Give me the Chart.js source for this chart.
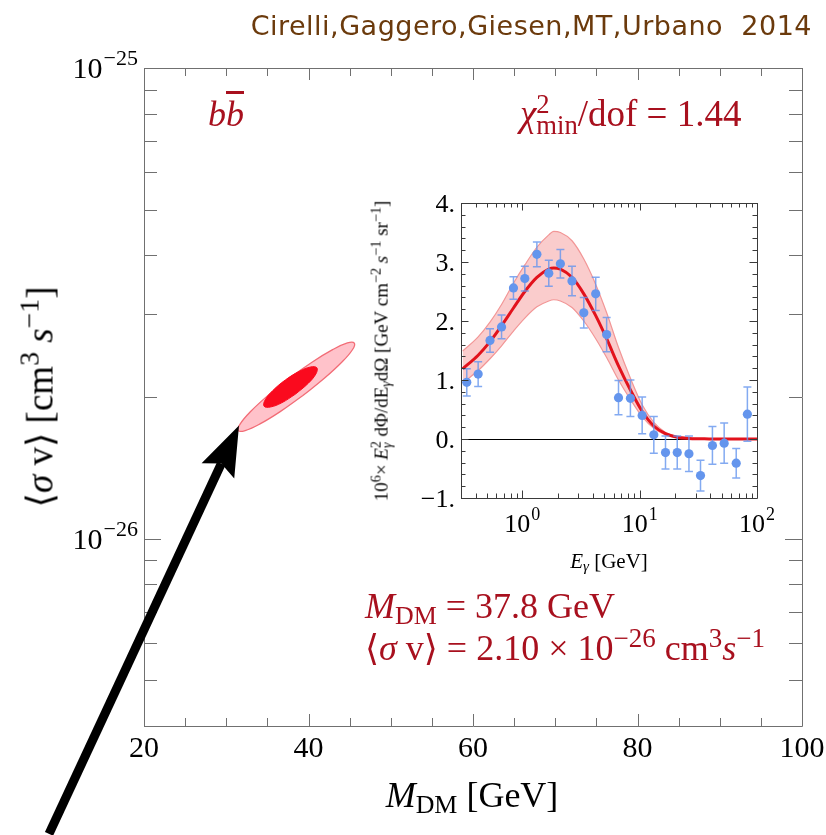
<!DOCTYPE html>
<html>
<head>
<meta charset="utf-8">
<script src="https://cdn.jsdelivr.net/npm/chart.js@4.4.1/dist/chart.umd.min.js"></script>
<style>
  body { margin: 0; background: #fff; }
  #wrap { position: relative; width: 826px; height: 835px; overflow: hidden;
          font-family: "Liberation Serif", "DejaVu Serif", serif; }
  canvas { position: absolute; }
  .t { position: absolute; white-space: nowrap; line-height: 1; }
  .red { color: #a8101e; }
  sup { font-size: 0.75em; vertical-align: 0.5em; line-height: 0; }
  sub { font-size: 0.72em; vertical-align: -0.25em; line-height: 0; }
  .stack { display: inline-flex; flex-direction: column; font-size: 0.72em; line-height: 0.8;
           position: relative; top: -0.5em; }
  .rot { transform: translate(-50%, -50%) rotate(-90deg); transform-origin: center; }
</style>
</head>
<body>
<div id="wrap">
  <canvas id="main" width="826" height="835" style="left:0;top:0"></canvas>
  <canvas id="inset" width="440" height="420" style="left:360px;top:170px"></canvas>

  <div class="t" id="title" style="right:14px;top:12px;font-family:'DejaVu Sans',sans-serif;font-size:27px;letter-spacing:0.5px;color:#6b3a0c">Cirelli,Gaggero,Giesen,MT,Urbano&nbsp;&nbsp;2014</div>

  <div class="t red" style="left:208px;top:96px;font-size:36px;font-style:italic">b<span style="text-decoration:overline">b</span></div>
  <div class="t red" style="left:520px;top:95px;font-size:37px"><i>χ</i><span class="stack"><span>2</span><span>min</span></span>/dof = 1.44</div>

  <div class="t red" style="left:365px;top:588px;font-size:36px"><i>M</i><sub>DM</sub> = 37.8 GeV</div>
  <div class="t red" style="left:365px;top:630px;font-size:36px">⟨<i>σ</i> v⟩ = 2.10 × 10<sup>−26</sup> cm<sup>3</sup><i>s</i><sup>−1</sup></div>

  <div class="t" style="left:472px;top:777px;font-size:36px;transform:translateX(-50%)"><i>M</i><sub>DM</sub> [GeV]</div>
  <div class="t rot" style="left:40px;top:397px;font-size:37px">⟨<i>σ</i> v⟩ [cm<sup>3</sup> <i>s</i><sup>−1</sup>]</div>

  <div class="t" style="left:609px;top:561px;font-size:21px;transform:translate(-50%,-50%)"><i>E</i><sub><i>γ</i></sub> [GeV]</div>
  <div class="t rot" style="left:386px;top:351px;font-size:19px">10<sup>6</sup>× <i>E</i><span class="stack"><span>2</span><span><i>γ</i></span></span> dΦ/dE<sub><i>γ</i></sub>dΩ [GeV cm<sup>−2</sup> <i>s</i><sup>−1</sup> sr<sup>−1</sup>]</div>
</div>

<script>
// ---- main panel: M_DM vs <sigma v>, b-bbar fit regions ----
const massRange = [20, 100];
const sigmaRange = [4e-27, 1e-25];
const massTicks = [20, 25, 30, 35, 40, 45, 50, 55, 60, 65, 70, 75, 80, 85, 90, 95, 100];
const massLabels = [20, 40, 60, 80, 100];
const sigmaTicks = [4e-27, 5e-27, 6e-27, 7e-27, 8e-27, 9e-27, 1e-26,
                    2e-26, 3e-26, 4e-26, 5e-26, 6e-26, 7e-26, 8e-26, 9e-26, 1e-25];
const sigmaLabels = [1e-26, 1e-25];

// outer (2 sigma) contour
const outerMass  = [39.32, 36.56, 34.10, 32.30, 31.47, 31.70, 32.96, 35.08, 37.71,
                    40.47, 42.93, 44.73, 45.57, 45.34, 44.07, 41.96, 39.32];
const outerSigma = [2.014e-26, 1.862e-26, 1.753e-26, 1.697e-26, 1.697e-26, 1.754e-26, 1.863e-26, 2.016e-26, 2.195e-26,
                    2.374e-26, 2.521e-26, 2.606e-26, 2.604e-26, 2.520e-26, 2.373e-26, 2.194e-26, 2.014e-26];
// inner (1 sigma) contour
const innerMass  = [38.43, 36.74, 35.34, 34.60, 34.72, 35.67, 37.19, 38.88, 40.28, 41.02, 40.90, 39.95, 38.43];
const innerSigma = [2.029e-26, 1.944e-26, 1.904e-26, 1.912e-26, 1.970e-26, 2.065e-26, 2.174e-26,
                    2.268e-26, 2.317e-26, 2.307e-26, 2.239e-26, 2.137e-26, 2.029e-26];

// arrow pointing at the fit region (mass, sigma v)
const arrowFrom = [8.45, 2.36e-27];
const arrowTo = [31.55, 1.74e-26];

// ---- inset: gamma-ray spectrum ----
const energyRange = [0.31, 100];
const fluxRange = [-1, 4];
const dataEnergy = [0.336, 0.42, 0.53, 0.665, 0.84, 1.05, 1.33, 1.68, 2.11, 2.65, 3.34, 4.22, 5.23,
                    6.6, 8.34, 10.5, 13.2, 16.6, 20.9, 26.3, 33.0, 41.7, 52.5, 66.5, 82.8];
const dataFlux = [0.96, 1.10, 1.67, 1.90, 2.56, 2.72, 3.13, 2.81, 2.97, 2.68, 2.14, 2.46, 1.77,
                  0.70, 0.69, 0.40, 0.07, -0.23, -0.23, -0.25, -0.62, -0.11, -0.07, -0.41, 0.42];
const dataErr = [0.23, 0.21, 0.20, 0.20, 0.19, 0.21, 0.21, 0.22, 0.24, 0.25, 0.26, 0.28, 0.29,
                 0.29, 0.31, 0.31, 0.31, 0.28, 0.28, 0.30, 0.26, 0.32, 0.34, 0.25, 0.46];

const modelEnergy = [0.31, 0.42, 0.53, 0.665, 0.84, 1.05, 1.33, 1.68, 1.85, 2.11, 2.65, 3.34, 4.22,
                     5.23, 6.6, 8.34, 10.5, 13.2, 16.6, 20.9, 26.3, 33, 41.7, 60, 100];
const modelFlux = [1.19, 1.42, 1.65, 1.92, 2.22, 2.50, 2.74, 2.88, 2.90, 2.88, 2.74, 2.46, 2.09,
                   1.70, 1.24, 0.83, 0.47, 0.22, 0.09, 0.03, 0.01, 0.005, 0, 0, 0];
const bandUpper = [1.49, 1.73, 1.98, 2.28, 2.64, 2.95, 3.25, 3.46, 3.52, 3.50, 3.36, 3.05, 2.62,
                   2.14, 1.55, 1.03, 0.58, 0.28, 0.11, 0.04, 0.015, 0.005, 0, 0, 0];
const bandLower = [0.95, 1.16, 1.36, 1.58, 1.83, 2.05, 2.24, 2.34, 2.36, 2.34, 2.23, 2.00, 1.70,
                   1.38, 1.00, 0.67, 0.38, 0.18, 0.07, 0.025, 0.008, 0.003, 0, 0, 0];

const energyTicks = [0.4, 0.5, 0.6, 0.7, 0.8, 0.9, 1, 2, 3, 4, 5, 6, 7, 8, 9,
                     10, 20, 30, 40, 50, 60, 70, 80, 90, 100];
const energyLabels = [1, 10, 100];
const fluxTicks = [-1, -0.8, -0.6, -0.4, -0.2, 0, 0.2, 0.4, 0.6, 0.8, 1, 1.2, 1.4, 1.6, 1.8,
                   2, 2.2, 2.4, 2.6, 2.8, 3, 3.2, 3.4, 3.6, 3.8, 4];
const fluxLabels = [-1, 0, 1, 2, 3, 4];

const pts = (xs, ys) => xs.map((v, i) => ({ x: v, y: ys[i] }));

function isMajor(v, majors) {
    return majors.some(m => m === 0 ? Math.abs(v) < 1e-9 : Math.abs(v / m - 1) < 1e-6);
}

// "10" with a raised exponent, drawn on the canvas
function drawPow(ctx, exp, x, y, align, baseSize, supSize, rise) {
    ctx.font = baseSize + 'px "Liberation Serif"';
    const wb = ctx.measureText('10').width;
    ctx.font = supSize + 'px "Liberation Serif"';
    const we = ctx.measureText(exp).width;
    const w = wb + we + 1;
    const x0 = align === 'right' ? x - w : align === 'center' ? x - w / 2 : x;
    ctx.textAlign = 'left';
    ctx.textBaseline = 'alphabetic';
    ctx.font = baseSize + 'px "Liberation Serif"';
    ctx.fillText('10', x0, y);
    ctx.font = supSize + 'px "Liberation Serif"';
    ctx.fillText(exp, x0 + wb + 1, y - rise);
}

// Mathematica style frame: inward ticks on all four sides
function framePlugin(cfg) {
    return {
        id: 'frame',
        afterDatasetsDraw(chart) {
            const { ctx, chartArea: a, scales: { x, y } } = chart;
            ctx.save();
            ctx.strokeStyle = cfg.color;
            ctx.lineWidth = 1;
            ctx.beginPath();
            ctx.rect(Math.round(a.left) + 0.5, Math.round(a.top) + 0.5,
                     Math.round(a.right - a.left), Math.round(a.bottom - a.top));
            cfg.xTicks.forEach(v => {
                const px = Math.round(x.getPixelForValue(v)) + 0.5;
                const len = isMajor(v, cfg.xMajor) ? cfg.xLen[0] : cfg.xLen[1];
                ctx.moveTo(px, a.bottom); ctx.lineTo(px, a.bottom - len);
                ctx.moveTo(px, a.top); ctx.lineTo(px, a.top + len);
            });
            cfg.yTicks.forEach(v => {
                const py = Math.round(y.getPixelForValue(v)) + 0.5;
                const len = isMajor(v, cfg.yMajor) ? cfg.yLen[0] : cfg.yLen[1];
                ctx.moveTo(a.left, py); ctx.lineTo(a.left + len, py);
                ctx.moveTo(a.right, py); ctx.lineTo(a.right - len, py);
            });
            ctx.stroke();
            ctx.fillStyle = '#000';
            cfg.xMajor.forEach(v => cfg.xLabel(ctx, v, x.getPixelForValue(v), a.bottom));
            cfg.yMajor.forEach(v => cfg.yLabel(ctx, v, a.left, y.getPixelForValue(v)));
            ctx.restore();
        }
    };
}

const arrowPlugin = {
    id: 'arrow',
    afterDraw(chart) {
        const { ctx, scales: { x, y } } = chart;
        const x0 = x.getPixelForValue(arrowFrom[0]), y0 = y.getPixelForValue(arrowFrom[1]);
        const x1 = x.getPixelForValue(arrowTo[0]), y1 = y.getPixelForValue(arrowTo[1]);
        const L = Math.hypot(x1 - x0, y1 - y0);
        const ux = (x1 - x0) / L, uy = (y1 - y0) / L, nx = -uy, ny = ux;
        const head = 50, notch = 42, half = 18;
        ctx.save();
        ctx.strokeStyle = '#000';
        ctx.fillStyle = '#000';
        ctx.lineWidth = 9;
        ctx.beginPath();
        ctx.moveTo(x0, y0);
        ctx.lineTo(x1 - ux * notch, y1 - uy * notch);
        ctx.stroke();
        ctx.beginPath();
        ctx.moveTo(x1, y1);
        ctx.lineTo(x1 - ux * head + nx * half, y1 - uy * head + ny * half);
        ctx.lineTo(x1 - ux * notch, y1 - uy * notch);
        ctx.lineTo(x1 - ux * head - nx * half, y1 - uy * head - ny * half);
        ctx.closePath();
        ctx.fill();
        ctx.restore();
    }
};

const hiddenAxis = { ticks: { display: false }, grid: { display: false }, border: { display: false } };

new Chart(document.getElementById('main'), {
    type: 'scatter',
    data: {
        datasets: [{
            data: pts(innerMass, innerSigma),
            showLine: true, fill: 'shape', tension: 0.4,
            backgroundColor: 'rgb(250,10,30)', borderColor: 'rgb(250,10,30)',
            borderWidth: 1, pointRadius: 0, order: 0
        }, {
            data: pts(outerMass, outerSigma),
            showLine: true, fill: 'shape', tension: 0.4,
            backgroundColor: 'rgb(255,194,202)', borderColor: 'rgb(242,108,118)',
            borderWidth: 1.3, pointRadius: 0, order: 1
        }]
    },
    options: {
        responsive: false, animation: false, devicePixelRatio: 1,
        layout: { padding: { top: 68, right: 24, left: 0, bottom: 0 } },
        plugins: { legend: { display: false }, tooltip: { enabled: false } },
        scales: {
            x: { ...hiddenAxis, type: 'linear', min: massRange[0], max: massRange[1],
                 afterFit(s) { s.height = 109; } },
            y: { ...hiddenAxis, type: 'logarithmic', min: sigmaRange[0], max: sigmaRange[1],
                 afterFit(s) { s.width = 144; } }
        }
    },
    plugins: [framePlugin({
        color: '#707070',
        xTicks: massTicks, xMajor: massLabels, xLen: [12, 8],
        yTicks: sigmaTicks, yMajor: sigmaLabels, yLen: [17, 13],
        xLabel(ctx, v, px, bottom) {
            ctx.font = '30px "Liberation Serif"';
            ctx.textAlign = 'center';
            ctx.textBaseline = 'alphabetic';
            ctx.fillText(String(v), px, bottom + 31);
        },
        yLabel(ctx, v, left, py) {
            drawPow(ctx, '\u2212' + Math.abs(Math.round(Math.log10(v))), left - 6, py + 10, 'right', 30, 22, 13);
        }
    }), arrowPlugin]
});

// zero line and error bars under the inset points
const errorBarPlugin = {
    id: 'errorBars',
    beforeDatasetsDraw(chart) {
        const { ctx, chartArea: a, scales: { y } } = chart;
        const py = Math.round(y.getPixelForValue(0)) + 0.5;
        ctx.save();
        ctx.strokeStyle = '#000';
        ctx.lineWidth = 1;
        ctx.beginPath();
        ctx.moveTo(a.left, py); ctx.lineTo(a.right, py);
        ctx.stroke();
        ctx.restore();
    },
    beforeDatasetDraw(chart, args) {
        if (args.index !== 3) return;
        const { ctx, scales: { x, y } } = chart;
        ctx.save();
        ctx.strokeStyle = 'rgba(100,149,237,0.8)';
        ctx.lineWidth = 1.5;
        ctx.beginPath();
        dataEnergy.forEach((e, i) => {
            const px = x.getPixelForValue(e);
            const hi = y.getPixelForValue(dataFlux[i] + dataErr[i]);
            const lo = y.getPixelForValue(dataFlux[i] - dataErr[i]);
            ctx.moveTo(px, hi); ctx.lineTo(px, lo);
            ctx.moveTo(px - 4, hi); ctx.lineTo(px + 4, hi);
            ctx.moveTo(px - 4, lo); ctx.lineTo(px + 4, lo);
        });
        ctx.stroke();
        ctx.restore();
    }
};

new Chart(document.getElementById('inset'), {
    type: 'scatter',
    data: {
        datasets: [{
            data: pts(modelEnergy, bandUpper),
            showLine: true, fill: '+1', cubicInterpolationMode: 'monotone',
            backgroundColor: 'rgba(242,128,128,0.4)', borderColor: 'rgb(242,150,150)',
            borderWidth: 1.2, pointRadius: 0, order: 3
        }, {
            data: pts(modelEnergy, bandLower),
            showLine: true, fill: false, cubicInterpolationMode: 'monotone',
            borderColor: 'rgb(242,150,150)', borderWidth: 1.2, pointRadius: 0, order: 2
        }, {
            data: pts(modelEnergy, modelFlux),
            showLine: true, fill: false, cubicInterpolationMode: 'monotone',
            borderColor: 'rgb(226,18,28)', borderWidth: 3, pointRadius: 0, order: 1
        }, {
            data: pts(dataEnergy, dataFlux),
            backgroundColor: 'rgb(100,149,237)', borderWidth: 0,
            pointRadius: 4.6, order: 0
        }]
    },
    options: {
        responsive: false, animation: false, devicePixelRatio: 1,
        layout: { padding: { top: 33, right: 43, left: 0, bottom: 0 } },
        plugins: { legend: { display: false }, tooltip: { enabled: false } },
        scales: {
            x: { ...hiddenAxis, type: 'logarithmic', min: energyRange[0], max: energyRange[1],
                 afterFit(s) { s.height = 92; } },
            y: { ...hiddenAxis, type: 'linear', min: fluxRange[0], max: fluxRange[1],
                 afterFit(s) { s.width = 101; } }
        }
    },
    plugins: [errorBarPlugin, framePlugin({
        color: '#3a3a3a',
        xTicks: energyTicks, xMajor: energyLabels, xLen: [7.5, 4.5],
        yTicks: fluxTicks, yMajor: fluxLabels, yLen: [7.5, 4.5],
        xLabel(ctx, v, px, bottom) {
            drawPow(ctx, String(Math.round(Math.log10(v))), px, bottom + 34, 'center', 26, 18, 12);
        },
        yLabel(ctx, v, left, py) {
            ctx.font = '26px "Liberation Serif"';
            ctx.textAlign = 'right';
            ctx.textBaseline = 'alphabetic';
            ctx.fillText((v < 0 ? '\u2212' : '') + Math.abs(v) + '.', left - 6, py + 8.5);
        }
    })]
});
</script>
</body>
</html>
